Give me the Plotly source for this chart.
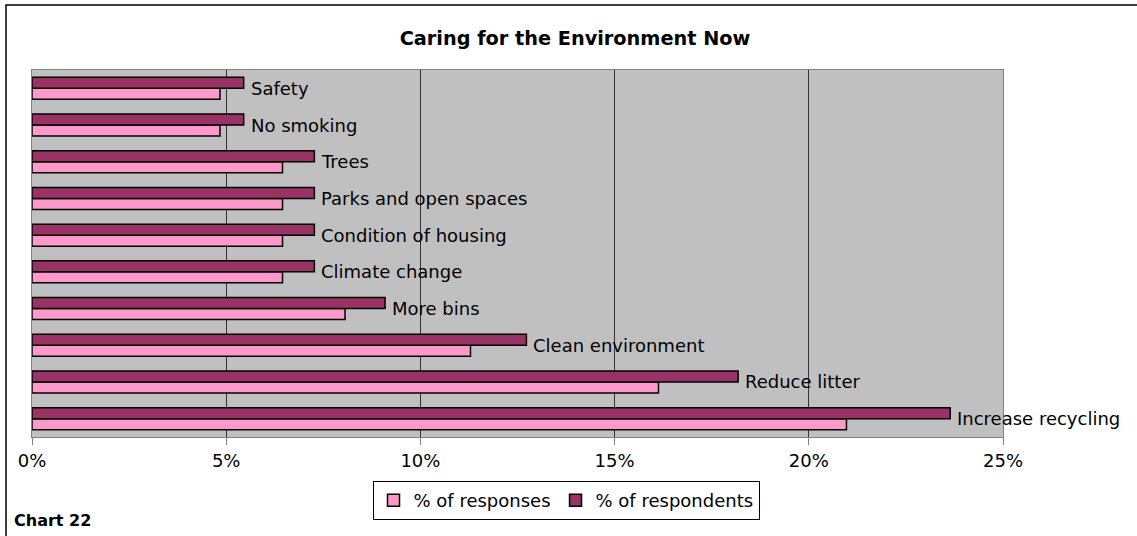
import plotly.graph_objects as go

# Categories listed bottom-to-top
categories = ["Increase recycling", "Reduce litter", "Clean environment", "More bins",
              "Climate change", "Condition of housing", "Parks and open spaces",
              "Trees", "No smoking", "Safety"]
pct_responses = [20.97, 16.13, 11.29, 8.06, 6.45, 6.45, 6.45, 6.45, 4.84, 4.84]
pct_respondents = [23.64, 18.18, 12.73, 9.09, 7.27, 7.27, 7.27, 7.27, 5.45, 5.45]
tick_vals = [0, 5, 10, 15, 20, 25]
tick_text = ["0%", "5%", "10%", "15%", "20%", "25%"]

FONT = "DejaVu Sans, Verdana, sans-serif"

fig = go.Figure()
fig.add_trace(go.Bar(
    y=categories, x=pct_responses, orientation="h", name="% of responses",
    marker=dict(color="#FF99CC", line=dict(color="black", width=1.5)),
))
fig.add_trace(go.Bar(
    y=categories, x=pct_respondents, orientation="h", name="% of respondents",
    marker=dict(color="#993366", line=dict(color="black", width=1.5)),
))

W, H = 1137, 536
L, R, T, B = 32, 134, 70, 99
pw, ph = W - L - R, H - T - B

label_annotations = [
    dict(x=v, y=c, xref="x", yref="y", text=c, showarrow=False,
         xanchor="left", yanchor="middle", xshift=5, yshift=0,
         font=dict(family=FONT, size=18, color="black"))
    for c, v in zip(categories, pct_respondents)
]

fig.update_layout(
    width=W, height=H,
    margin=dict(l=L, r=R, t=T, b=B),
    paper_bgcolor="white", plot_bgcolor="#C0C0C0",
    barmode="group", bargap=0.4, bargroupgap=0,
    font=dict(family=FONT, size=18, color="black"),
    title=dict(text="<b>Caring for the Environment Now</b>", xref="container",
               x=575 / W, xanchor="center",
               y=1 - 38 / H, yanchor="middle", font=dict(size=19.3)),
    showlegend=True,
    legend=dict(orientation="h", x=(566 - L) / pw, xanchor="center",
                y=(H - B - 481) / ph, yanchor="top",
                bordercolor="black", borderwidth=1, bgcolor="white",
                font=dict(size=18), itemwidth=30, tracegroupgap=0),
    xaxis=dict(range=[0, 25], tickvals=tick_vals, ticktext=tick_text,
               showgrid=True, gridcolor="#333333", gridwidth=1,
               showline=True, linecolor="#808080", linewidth=1, mirror=True,
               ticks="outside", ticklen=7, tickcolor="#808080",
               zeroline=False, tickfont=dict(size=18), fixedrange=True),
    yaxis=dict(showticklabels=False, showgrid=False, zeroline=False,
               showline=True, linecolor="#808080", linewidth=1, mirror=True,
               range=[-0.5, 9.5], fixedrange=True),
    annotations=label_annotations + [
        dict(text="<b>Chart 22</b>", xref="paper", yref="paper",
             x=(12 - L) / pw, y=(H - B - 520) / ph, xanchor="left",
             yanchor="middle", showarrow=False, font=dict(size=16))],
    shapes=[dict(type="rect", xref="paper", yref="paper",
                 x0=(6 - L) / pw, x1=(W + 5 - L) / pw,
                 y0=(H - B - (H + 5)) / ph, y1=(H - B - 5) / ph,
                 line=dict(color="black", width=1.5), layer="below")],
)

fig.write_html("out.html", config={"displayModeBar": False},
               post_script="document.body.style.margin='0';document.body.style.padding='0';")
